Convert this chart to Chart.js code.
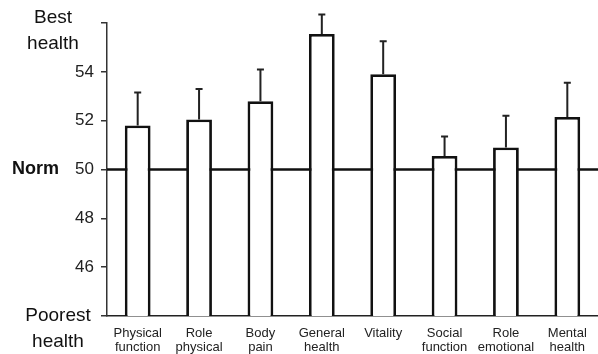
<!DOCTYPE html>
<html>
<head>
<meta charset="utf-8">
<script src="https://cdn.jsdelivr.net/npm/chart.js@4/dist/chart.umd.min.js"></script>
<style>
  body { margin: 0; background: #fff; }
</style>
</head>
<body>
<canvas id="grafico" width="598" height="354"></canvas>
<script>
const categorias = [
  ["Physical", "function"], ["Role", "physical"], ["Body", "pain"], ["General", "health"],
  ["Vitality"], ["Social", "function"], ["Role", "emotional"], ["Mental", "health"]
];
const medias = [51.8, 52.05, 52.8, 55.55, 53.9, 50.55, 50.9, 52.15];
const limiteSuperior = [53.15, 53.3, 54.1, 56.35, 55.25, 51.35, 52.2, 53.55];
const ticksY = [46, 48, 50, 52, 54];
const norma = 50;
const escalaMin = 44;
const escalaMax = 56;

const fonte = "'Liberation Sans', Arial, sans-serif";

// linha da norma, passa por tras das barras
const linhaNorma = {
  id: "linhaNorma",
  beforeDatasetsDraw(chart) {
    const { ctx, chartArea, scales } = chart;
    const y = scales.y.getPixelForValue(norma);
    ctx.save();
    ctx.strokeStyle = "#111";
    ctx.lineWidth = 2.5;
    ctx.beginPath();
    ctx.moveTo(chartArea.left, y);
    ctx.lineTo(chartArea.right, y);
    ctx.stroke();
    ctx.restore();
  }
};

// barras de erro (so para cima)
const barrasErro = {
  id: "barrasErro",
  afterDatasetsDraw(chart) {
    const { ctx, scales } = chart;
    const meta = chart.getDatasetMeta(0);
    ctx.save();
    ctx.strokeStyle = "#222";
    ctx.lineWidth = 2;
    meta.data.forEach((barra, i) => {
      const yTopo = scales.y.getPixelForValue(limiteSuperior[i]);
      ctx.beginPath();
      ctx.moveTo(barra.x, barra.y);
      ctx.lineTo(barra.x, yTopo);
      ctx.moveTo(barra.x - 3.5, yTopo);
      ctx.lineTo(barra.x + 3.5, yTopo);
      ctx.stroke();
    });
    ctx.restore();
  }
};

// textos laterais: Best health / Norm / Poorest health
const rotulos = {
  id: "rotulos",
  afterDraw(chart) {
    const { ctx, scales } = chart;
    const y = scales.y;
    ctx.save();
    ctx.fillStyle = "#111";
    ctx.textBaseline = "middle";
    ctx.textAlign = "center";
    ctx.font = "19px " + fonte;
    const yBest = y.getPixelForValue(escalaMax);
    ctx.fillText("Best", 53, yBest - 5);
    ctx.fillText("health", 53, yBest + 21);
    const yPoor = y.getPixelForValue(escalaMin);
    ctx.fillText("Poorest", 58, yPoor);
    ctx.fillText("health", 58, yPoor + 26);
    ctx.textAlign = "left";
    ctx.font = "bold 18px " + fonte;
    ctx.fillText("Norm", 12, y.getPixelForValue(norma));
    ctx.restore();
  }
};

new Chart(document.getElementById("grafico"), {
  type: "bar",
  data: {
    labels: categorias,
    datasets: [
      {
        data: medias,
        backgroundColor: "#fff",
        borderColor: "#111",
        borderWidth: 2.8,
        borderSkipped: false,
        categoryPercentage: 1,
        barPercentage: 0.42
      }
    ]
  },
  options: {
    responsive: false,
    animation: false,
    layout: { padding: { top: 23, right: 0, left: 0, bottom: 0 } },
    plugins: {
      legend: { display: false },
      tooltip: { enabled: false }
    },
    scales: {
      x: {
        grid: { display: false },
        border: { display: true, color: "#222", width: 1.5 },
        ticks: {
          color: "#222",
          padding: 2,
          maxRotation: 0,
          autoSkip: false,
          font: { family: fonte, size: 13, lineHeight: 1.1 }
        },
        afterFit(scale) { scale.height = 38; }
      },
      y: {
        min: escalaMin,
        max: escalaMax,
        grid: { display: true, drawOnChartArea: false, drawTicks: true, tickLength: 6, color: "#333", lineWidth: 1.5 },
        border: { display: true, color: "#333", width: 1.5 },
        ticks: {
          stepSize: 2,
          padding: 7,
          color: "#222",
          font: { family: fonte, size: 17 },
          callback: function (valor) {
            return ticksY.includes(valor) ? String(valor) : "";
          }
        },
        afterFit(scale) { scale.width = 107; }
      }
    }
  },
  plugins: [linhaNorma, barrasErro, rotulos]
});
</script>
</body>
</html>
